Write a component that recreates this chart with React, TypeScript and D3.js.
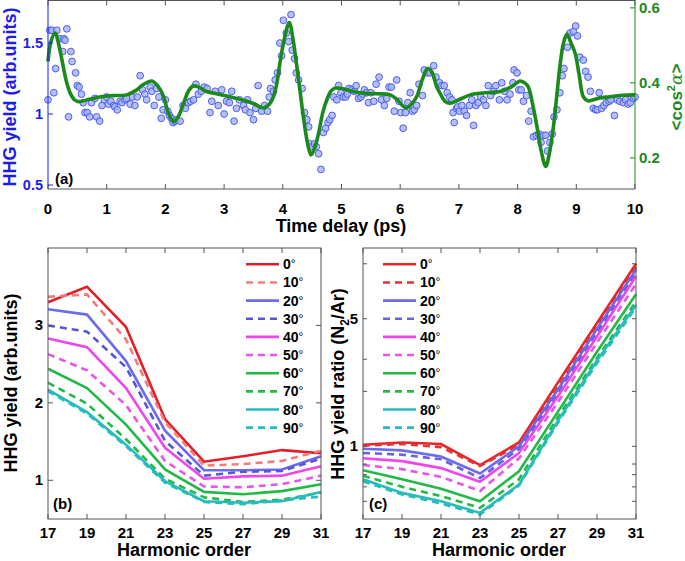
import React from 'react';
import * as d3 from 'd3';

// ---------- Panel (a) data ----------
const scatterTime = [0.00,0.03,0.07,0.10,0.13,0.15,0.20,0.25,0.27,0.29,0.32,0.35,0.39,0.41,0.47,0.50,0.53,0.57,0.60,0.63,0.67,0.71,0.74,0.80,0.83,0.88,0.92,0.96,1.00,1.03,1.07,1.12,1.14,1.18,1.23,1.26,1.31,1.34,1.40,1.44,1.48,1.52,1.57,1.61,1.65,1.68,1.74,1.77,1.81,1.85,1.89,1.93,1.96,2.00,2.04,2.07,2.10,2.13,2.16,2.19,2.25,2.30,2.34,2.39,2.43,2.48,2.52,2.56,2.61,2.66,2.71,2.76,2.79,2.85,2.90,2.96,3.00,3.04,3.09,3.13,3.17,3.21,3.26,3.33,3.36,3.40,3.44,3.50,3.54,3.58,3.64,3.69,3.74,3.77,3.79,3.84,3.87,3.91,3.95,3.98,4.01,4.06,4.10,4.14,4.16,4.20,4.23,4.27,4.33,4.37,4.41,4.44,4.46,4.50,4.54,4.57,4.61,4.65,4.69,4.73,4.77,4.80,4.84,4.87,4.92,4.95,4.99,5.03,5.07,5.10,5.13,5.17,5.22,5.25,5.29,5.33,5.36,5.39,5.43,5.46,5.50,5.55,5.59,5.64,5.68,5.73,5.77,5.81,5.85,5.90,5.94,5.98,6.01,6.05,6.09,6.13,6.17,6.21,6.24,6.28,6.32,6.38,6.41,6.46,6.51,6.57,6.61,6.67,6.71,6.75,6.80,6.84,6.88,6.90,6.92,6.96,6.98,7.01,7.05,7.09,7.13,7.18,7.22,7.25,7.29,7.33,7.37,7.42,7.46,7.50,7.54,7.59,7.63,7.69,7.73,7.78,7.82,7.87,7.92,7.94,7.99,8.02,8.06,8.10,8.15,8.19,8.23,8.27,8.32,8.36,8.40,8.44,8.48,8.51,8.55,8.59,8.62,8.67,8.72,8.76,8.79,8.85,8.89,8.95,8.99,9.02,9.06,9.12,9.16,9.20,9.24,9.29,9.33,9.36,9.39,9.43,9.47,9.51,9.56,9.59,9.65,9.70,9.74,9.80,9.84,9.88,9.92,9.97,10.00];
const scatterYield = [1.10,1.59,1.59,1.15,1.32,1.59,1.53,1.44,1.53,1.52,1.60,0.98,1.44,1.37,1.29,1.20,1.19,1.14,1.08,1.01,1.01,0.98,1.08,1.11,0.98,0.95,1.06,1.10,1.12,1.07,1.09,1.06,1.05,1.03,1.09,1.08,1.10,1.11,1.07,1.12,1.06,1.12,1.27,1.17,1.14,1.10,1.19,1.16,1.06,1.18,1.12,0.97,1.03,1.10,1.02,0.99,0.97,0.94,0.95,0.96,0.95,1.06,1.04,1.08,1.09,1.10,1.21,1.14,1.16,1.19,1.18,1.01,1.09,1.16,1.06,1.17,1.00,1.09,1.08,1.16,0.95,1.04,1.10,1.06,1.03,1.10,1.01,0.96,1.04,1.20,1.02,1.06,1.02,1.12,1.18,1.16,1.24,1.29,1.50,1.41,1.66,1.57,1.51,1.70,1.45,1.39,1.29,1.24,1.18,1.01,0.96,0.91,0.79,0.77,0.79,0.77,0.72,0.61,0.87,0.90,0.94,0.96,0.99,1.12,1.10,1.20,1.15,1.12,1.12,1.14,1.18,1.17,1.16,1.20,1.11,1.12,1.14,1.17,1.15,1.08,1.15,1.09,1.21,1.26,1.10,1.06,1.11,1.19,1.19,1.02,1.24,1.09,1.01,0.90,1.01,1.08,1.15,1.02,1.03,1.06,1.21,1.13,1.31,1.29,1.29,1.34,1.26,1.22,1.20,1.20,1.15,1.12,1.10,1.01,0.94,1.04,1.05,1.02,1.06,1.02,0.99,1.06,1.10,0.92,1.06,1.08,1.12,1.10,1.06,1.20,1.13,1.16,1.20,1.10,1.22,1.16,1.10,1.14,1.22,1.31,1.29,1.17,1.17,1.09,1.13,0.95,1.02,0.84,0.85,0.86,0.80,0.85,0.85,0.74,0.80,0.86,0.98,1.03,1.15,1.27,1.32,1.47,1.57,1.58,1.62,1.55,1.40,1.38,1.30,1.26,1.16,1.04,1.03,1.03,1.15,1.04,1.06,1.08,1.09,1.10,0.99,1.10,1.09,1.08,1.10,1.07,1.08,1.11,1.12];

const cosTime = [0.0,0.05,0.12,0.2,0.26,0.32,0.38,0.45,0.52,0.7,0.9,1.1,1.34,1.5,1.6,1.77,1.9,1.97,2.05,2.14,2.22,2.31,2.4,2.48,2.6,2.7,2.9,3.1,3.3,3.5,3.67,3.78,3.84,3.9,3.95,4.03,4.11,4.17,4.24,4.3,4.35,4.42,4.48,4.54,4.61,4.68,4.75,4.82,4.89,5.0,5.2,5.4,5.6,5.83,5.95,6.05,6.11,6.2,6.28,6.38,6.47,6.55,6.62,6.68,6.77,6.85,7.0,7.19,7.4,7.7,7.9,8.04,8.12,8.18,8.26,8.33,8.4,8.48,8.55,8.61,8.67,8.72,8.78,8.84,8.9,8.98,9.05,9.12,9.2,9.29,9.4,9.57,9.8,10.0];
const cosValue = [0.457,0.51,0.533,0.49,0.443,0.40,0.372,0.355,0.35,0.356,0.363,0.366,0.368,0.38,0.393,0.405,0.385,0.363,0.32,0.297,0.31,0.346,0.38,0.392,0.386,0.377,0.37,0.363,0.355,0.345,0.333,0.345,0.363,0.40,0.452,0.52,0.561,0.52,0.443,0.37,0.31,0.24,0.208,0.225,0.266,0.32,0.355,0.378,0.386,0.385,0.377,0.372,0.371,0.368,0.355,0.338,0.333,0.345,0.363,0.41,0.439,0.425,0.39,0.372,0.35,0.346,0.355,0.368,0.373,0.377,0.39,0.405,0.40,0.39,0.34,0.283,0.22,0.177,0.22,0.283,0.37,0.443,0.505,0.53,0.51,0.479,0.42,0.363,0.352,0.355,0.36,0.363,0.367,0.368];

const timeTicks = [0,1,2,3,4,5,6,7,8,9,10];
const yieldTicksA = [0.5,1,1.5];
const cosTicks = [0.2,0.4,0.6];

// ---------- Panels (b) and (c) data ----------
const harmonics = [17,19,21,23,25,27,29,31];
const angles = ['0','10','20','30','40','50','60','70','80','90'];
const yieldB = [
  [3.30,3.50,2.98,1.79,1.24,1.31,1.39,1.35],
  [3.37,3.40,2.82,1.75,1.19,1.21,1.25,1.38],
  [3.21,3.14,2.54,1.64,1.13,1.13,1.14,1.31],
  [3.00,2.92,2.46,1.51,1.06,1.11,1.12,1.28],
  [2.83,2.72,2.19,1.42,1.02,1.05,1.06,1.18],
  [2.63,2.42,1.97,1.25,0.92,0.91,0.95,1.06],
  [2.44,2.19,1.72,1.14,0.85,0.82,0.86,0.95],
  [2.26,1.99,1.53,1.02,0.78,0.72,0.75,0.84],
  [2.17,1.88,1.46,0.99,0.73,0.71,0.73,0.85],
  [2.15,1.86,1.44,0.97,0.72,0.69,0.74,0.79],
];
const ratioC = [
  [1.02,1.05,1.03,0.79,1.05,2.24,4.74,10.0],
  [1.01,1.03,0.99,0.78,1.02,2.12,4.50,9.6],
  [0.97,0.95,0.88,0.71,1.00,2.05,4.40,9.3],
  [0.92,0.90,0.85,0.67,0.97,1.96,4.20,8.9],
  [0.86,0.83,0.76,0.64,0.92,1.88,4.00,8.55],
  [0.79,0.75,0.68,0.57,0.86,1.75,3.70,7.75],
  [0.74,0.66,0.585,0.50,0.73,1.55,3.30,6.8],
  [0.69,0.60,0.534,0.46,0.66,1.45,3.05,6.2],
  [0.66,0.556,0.50,0.432,0.617,1.38,2.95,5.95],
  [0.644,0.545,0.486,0.423,0.61,1.35,2.85,5.77],
];
const colorsB = ['#e41e26','#f27b7b','#6b6bef','#5656dc','#ee45ee','#e954e9','#23b946','#23b946','#26bcbc','#26bcbc'];
const colorsC = ['#e8262a','#e33333','#6b6bef','#6262e6','#ee45ee','#e954e9','#23b946','#23b946','#26bcbc','#26bcbc'];
const dashed = [false,true,false,true,false,true,false,true,false,true];
const yieldTicksB = [1,2,3];
const ratioTicks = [0.5,0.6,0.7,0.8,1,2,3,5,10];
const ratioLabels = [1,5];

const FONT = 'Liberation Sans, Arial, Helvetica, sans-serif';
const BLUE = '#1c1cf0';
const GREEN = '#1a8a1a';
const AXIS = '#555';

export default function App() {
  // Panel (a)
  const ax = { l: 48, r: 635, t: 0.5, b: 189 };
  const xA = d3.scaleLinear().domain([0, 10]).range([ax.l, ax.r]);
  const yAL = d3.scaleLinear().domain([0.472, 1.803]).range([189, 0]);
  const yAR = d3.scaleLinear().domain([0.117, 0.621]).range([189, 0]);
  const cosLine = d3.line<number>()
    .x((_, i) => xA(cosTime[i]))
    .y((d) => yAR(d))
    .curve(d3.curveCatmullRom.alpha(0.5));

  // Panel (b)
  const bx = { l: 48, r: 321, t: 248, b: 519 };
  const xB = d3.scaleLinear().domain([17, 31]).range([bx.l, bx.r]);
  const yB = d3.scaleLinear().domain([0.5, 4.0]).range([bx.b, bx.t]);
  const lineB = d3.line<number>().x((_, i) => xB(harmonics[i])).y((d) => yB(d));

  // Panel (c)
  const cx = { l: 363, r: 636, t: 248, b: 519 };
  const xC = d3.scaleLinear().domain([17, 31]).range([cx.l, cx.r]);
  const yC = d3.scaleLog().domain([0.4, 12.2]).range([cx.b, cx.t]);
  const lineC = d3.line<number>().x((_, i) => xC(harmonics[i])).y((d) => yC(d));

  const tick = 5;

  const legend = (x0: number, colors: string[]) =>
    angles.map((a, i) => {
      const y = 264.3 + i * 18.15;
      return (
        <g key={'lg' + i}>
          <line x1={x0} x2={x0 + 33} y1={y} y2={y} stroke={colors[i]} strokeWidth={2.6}
            strokeDasharray={dashed[i] ? '7,5' : undefined} />
          <text x={x0 + 37} y={y + 5} fontSize={14} fontWeight="bold" fill="#000">
            {a}<tspan fontWeight="normal" fontSize={12} dy={-1}>°</tspan>
          </text>
        </g>
      );
    });

  return (
    <svg width={685} height={561} style={{ position: 'absolute', left: 0, top: 0, background: '#fff' }}
      fontFamily={FONT}>
      <rect x={0} y={0} width={685} height={561} fill="#fff" />

      {/* ===== Panel (a) ===== */}
      {scatterTime.map((t, i) => (
        <circle key={'s' + i} cx={xA(t)} cy={yAL(scatterYield[i])} r={3.4}
          fill="#a9b5f5" fillOpacity={0.85} stroke="#4152ee" strokeWidth={0.9} />
      ))}
      <path d={cosLine(cosValue) || ''} fill="none" stroke={GREEN} strokeWidth={3.6} strokeLinejoin="round" />
      {/* box */}
      <line x1={ax.l} x2={ax.r} y1={ax.t} y2={ax.t} stroke={AXIS} strokeWidth={1} />
      <line x1={ax.l} x2={ax.r} y1={ax.b} y2={ax.b} stroke={AXIS} strokeWidth={1} />
      <line x1={ax.l} x2={ax.l} y1={0} y2={ax.b} stroke={BLUE} strokeWidth={1} />
      <line x1={ax.r} x2={ax.r} y1={0} y2={ax.b} stroke={GREEN} strokeWidth={1} />
      {timeTicks.map((t) => (
        <g key={'xt' + t}>
          <line x1={xA(t)} x2={xA(t)} y1={ax.b} y2={ax.b - tick} stroke={AXIS} />
          <line x1={xA(t)} x2={xA(t)} y1={ax.t} y2={ax.t + tick} stroke={AXIS} />
          <text x={xA(t)} y={214} textAnchor="middle" fontSize={15} fontWeight="bold">{t}</text>
        </g>
      ))}
      {yieldTicksA.map((v) => (
        <g key={'yl' + v}>
          <line x1={ax.l} x2={ax.l + tick} y1={yAL(v)} y2={yAL(v)} stroke={BLUE} />
          <text x={43} y={yAL(v) + 5} textAnchor="end" fontSize={14.5} fontWeight="bold" fill={BLUE}>{v}</text>
        </g>
      ))}
      {cosTicks.map((v) => (
        <g key={'yr' + v}>
          <line x1={ax.r} x2={ax.r - tick} y1={yAR(v)} y2={yAR(v)} stroke={GREEN} />
          <text x={639} y={yAR(v) + 5} textAnchor="start" fontSize={15} fontWeight="bold" fill={GREEN}>{v}</text>
        </g>
      ))}
      <text x={341} y={232} textAnchor="middle" fontSize={18} fontWeight="bold">Time delay (ps)</text>
      <text transform="translate(16,97) rotate(-90)" textAnchor="middle" fontSize={18} fontWeight="bold" fill={BLUE}>HHG yield (arb.units)</text>
      <text transform="translate(682,97) rotate(-90)" textAnchor="middle" fontSize={17} fontWeight="bold" fill={GREEN}>
        &lt;cos<tspan fontSize={11} dy={-7}>2</tspan><tspan dy={7} fontFamily="DejaVu Serif" fontStyle="italic" fontWeight="normal">α</tspan>&gt;
      </text>
      <text x={55} y={184} fontSize={15} fontWeight="bold">(a)</text>

      {/* ===== Panel (b) ===== */}
      {yieldB.map((s, i) => (
        <path key={'b' + i} d={lineB(s) || ''} fill="none" stroke={colorsB[i]} strokeWidth={2.6}
          strokeDasharray={dashed[i] ? '7,5' : undefined} />
      ))}
      <rect x={bx.l} y={bx.t} width={bx.r - bx.l} height={bx.b - bx.t} fill="none" stroke={AXIS} />
      {harmonics.map((h) => (
        <g key={'bx' + h}>
          <line x1={xB(h)} x2={xB(h)} y1={bx.b} y2={bx.b - tick} stroke={AXIS} />
          <line x1={xB(h)} x2={xB(h)} y1={bx.t} y2={bx.t + tick} stroke={AXIS} />
          <text x={xB(h)} y={538} textAnchor="middle" fontSize={15} fontWeight="bold">{h}</text>
        </g>
      ))}
      {yieldTicksB.map((v) => (
        <g key={'by' + v}>
          <line x1={bx.l} x2={bx.l + tick} y1={yB(v)} y2={yB(v)} stroke={AXIS} />
          <line x1={bx.r} x2={bx.r - tick} y1={yB(v)} y2={yB(v)} stroke={AXIS} />
          <text x={43} y={yB(v) + 5} textAnchor="end" fontSize={15} fontWeight="bold">{v}</text>
        </g>
      ))}
      {legend(246, colorsB)}
      <text x={184} y={556} textAnchor="middle" fontSize={18} fontWeight="bold">Harmonic order</text>
      <text transform="translate(17,383) rotate(-90)" textAnchor="middle" fontSize={18} fontWeight="bold">HHG yield (arb.units)</text>
      <text x={53} y={509} fontSize={15} fontWeight="bold">(b)</text>

      {/* ===== Panel (c) ===== */}
      {ratioC.map((s, i) => (
        <path key={'c' + i} d={lineC(s) || ''} fill="none" stroke={colorsC[i]} strokeWidth={2.6}
          strokeDasharray={dashed[i] ? '7,5' : undefined} />
      ))}
      <rect x={cx.l} y={cx.t} width={cx.r - cx.l} height={cx.b - cx.t} fill="none" stroke={AXIS} />
      {harmonics.map((h) => (
        <g key={'cx' + h}>
          <line x1={xC(h)} x2={xC(h)} y1={cx.b} y2={cx.b - tick} stroke={AXIS} />
          <line x1={xC(h)} x2={xC(h)} y1={cx.t} y2={cx.t + tick} stroke={AXIS} />
          <text x={xC(h)} y={538} textAnchor="middle" fontSize={15} fontWeight="bold">{h}</text>
        </g>
      ))}
      {ratioTicks.map((v) => (
        <g key={'cy' + v}>
          <line x1={cx.l} x2={cx.l + 4} y1={yC(v)} y2={yC(v)} stroke={AXIS} />
          <line x1={cx.r} x2={cx.r - 4} y1={yC(v)} y2={yC(v)} stroke={AXIS} />
        </g>
      ))}
      {ratioLabels.map((v) => (
        <text key={'cl' + v} x={358} y={yC(v) + 5} textAnchor="end" fontSize={15} fontWeight="bold">{v}</text>
      ))}
      {legend(383, colorsC)}
      <text x={499} y={556} textAnchor="middle" fontSize={18} fontWeight="bold">Harmonic order</text>
      <text transform="translate(344,384) rotate(-90)" textAnchor="middle" fontSize={18} fontWeight="bold">
        HHG yield ratio (N<tspan fontSize={12} dy={5}>2</tspan><tspan dy={-5}>/Ar)</tspan>
      </text>
      <text x={369} y={509} fontSize={15} fontWeight="bold">(c)</text>
    </svg>
  );
}
